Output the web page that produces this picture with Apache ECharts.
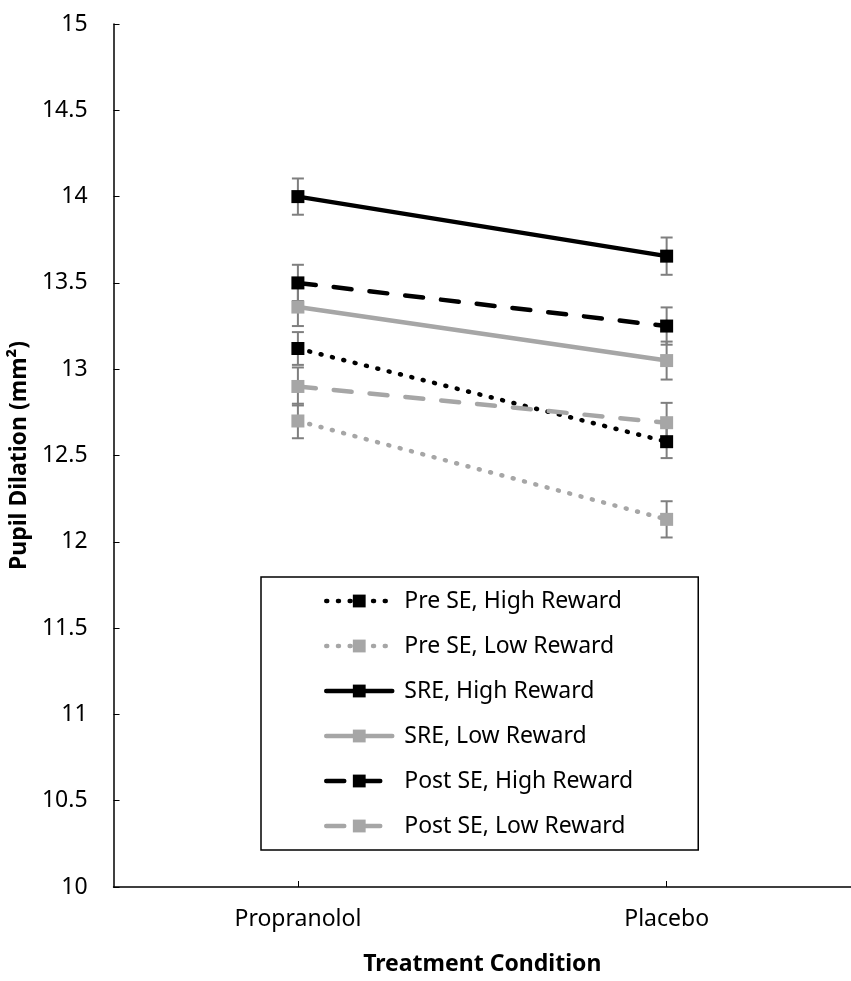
<!DOCTYPE html>
<html>
<head>
<meta charset="utf-8">
<script src="https://cdn.jsdelivr.net/npm/echarts@6/dist/echarts.min.js"></script>
<style>
html,body{margin:0;padding:0;background:#fff;}
#chart{width:851px;height:981px;}
</style>
</head>
<body>
<div id="chart"></div>
<script>
// ---- data ----
var categories = ['Propranolol', 'Placebo'];
var seriesNames = ['Pre SE, High Reward', 'Pre SE, Low Reward', 'SRE, High Reward', 'SRE, Low Reward', 'Post SE, High Reward', 'Post SE, Low Reward'];
var preHigh  = [13.12, 12.58];
var preLow   = [12.70, 12.13];
var sreHigh  = [14.00, 13.655];
var sreLow   = [13.36, 13.05];
var postHigh = [13.50, 13.25];
var postLow  = [12.90, 12.69];
// standard errors (half length of the error bars)
var preHighErr  = [0.095, 0.095];
var preLowErr   = [0.10, 0.105];
var sreHighErr  = [0.105, 0.108];
var sreLowErr   = [0.11, 0.11];
var postHighErr = [0.105, 0.108];
var postLowErr  = [0.11, 0.115];
var yTicks = [10, 10.5, 11, 11.5, 12, 12.5, 13, 13.5, 14, 14.5, 15];

var values = [preHigh, preLow, sreHigh, sreLow, postHigh, postLow];
var errors = [preHighErr, preLowErr, sreHighErr, sreLowErr, postHighErr, postLowErr];

var BLACK = '#000000', GREY = '#a6a6a6';
var colors = [BLACK, GREY, BLACK, GREY, BLACK, GREY];
var dotted = [1, 10.7], dashed = [18, 18];
var types = [dotted, dotted, 'solid', 'solid', dashed, dashed];
var LW = 4.5;
var FONT = 'Noto Sans';

var errData = [];
values.forEach(function (vals, s) {
  vals.forEach(function (v, i) {
    errData.push([i, v - errors[s][i], v + errors[s][i]]);
  });
});

var series = [{
  type: 'custom',
  name: 'errorbars',
  z: 1,
  silent: true,
  data: errData,
  encode: { x: 0, y: [1, 2] },
  renderItem: function (params, api) {
    var x = api.value(0);
    var lo = api.coord([x, api.value(1)]);
    var hi = api.coord([x, api.value(2)]);
    var hw = 6;
    var st = { stroke: '#7f7f7f', lineWidth: 2 };
    return {
      type: 'group',
      children: [
        { type: 'line', shape: { x1: lo[0], y1: lo[1], x2: hi[0], y2: hi[1] }, style: st },
        { type: 'line', shape: { x1: lo[0] - hw, y1: lo[1], x2: lo[0] + hw, y2: lo[1] }, style: st },
        { type: 'line', shape: { x1: hi[0] - hw, y1: hi[1], x2: hi[0] + hw, y2: hi[1] }, style: st }
      ]
    };
  }
}];

values.forEach(function (vals, s) {
  series.push({
    type: 'line',
    name: seriesNames[s],
    data: vals,
    z: 2,
    symbol: 'rect',
    symbolSize: 13,
    showSymbol: true,
    itemStyle: { color: colors[s] },
    lineStyle: { color: colors[s], width: LW, type: types[s], cap: 'round' },
    emphasis: { disabled: true }
  });
});

var legendData = seriesNames.map(function (n, s) {
  return {
    name: n,
    lineStyle: { color: colors[s], width: LW, type: types[s], cap: 'round' },
    itemStyle: { color: colors[s] }
  };
});

var chart = echarts.init(document.getElementById('chart'), null, { renderer: 'canvas' });
chart.setOption({
  animation: false,
  backgroundColor: '#ffffff',
  textStyle: { fontFamily: FONT },
  grid: { left: 109, right: -6, top: 24, bottom: 88, containLabel: false },
  legend: {
    orient: 'vertical',
    left: 261,
    top: 577,
    padding: [12, 65, 12, 63],
    itemWidth: 66,
    itemHeight: 16,
    itemGap: 21,
    backgroundColor: '#ffffff',
    borderColor: '#000000',
    borderWidth: 1.5,
    borderRadius: 0,
    selectedMode: false,
    data: legendData,
    textStyle: { fontFamily: FONT, fontSize: 23, color: '#000', lineHeight: 24, padding: [0, 0, 0, 7] }
  },
  xAxis: {
    type: 'category',
    data: categories,
    boundaryGap: true,
    name: 'Treatment Condition',
    nameLocation: 'middle',
    nameGap: 66,
    nameTextStyle: { fontFamily: FONT, fontSize: 23, fontWeight: 'bold', color: '#000' },
    axisLine: { show: true, lineStyle: { color: '#000', width: 1.5 } },
    axisTick: { show: true, inside: true, alignWithLabel: true, length: 6, lineStyle: { color: '#000', width: 1 } },
    axisLabel: { fontFamily: FONT, fontSize: 23, color: '#000', margin: 21 },
    splitLine: { show: false }
  },
  yAxis: {
    type: 'value',
    min: yTicks[0],
    max: yTicks[yTicks.length - 1],
    interval: 0.5,
    name: 'Pupil Dilation (mm\u00B2)',
    nameLocation: 'middle',
    nameGap: 69,
    nameTextStyle: { fontFamily: FONT, fontSize: 23, fontWeight: 'bold', color: '#000' },
    axisLine: { show: true, lineStyle: { color: '#000', width: 1.5 } },
    axisTick: { show: true, inside: true, length: 6, lineStyle: { color: '#000', width: 1 } },
    axisLabel: { fontFamily: FONT, fontSize: 23, color: '#000', margin: 26 },
    splitLine: { show: false }
  },
  series: series
});
</script>
</body>
</html>
